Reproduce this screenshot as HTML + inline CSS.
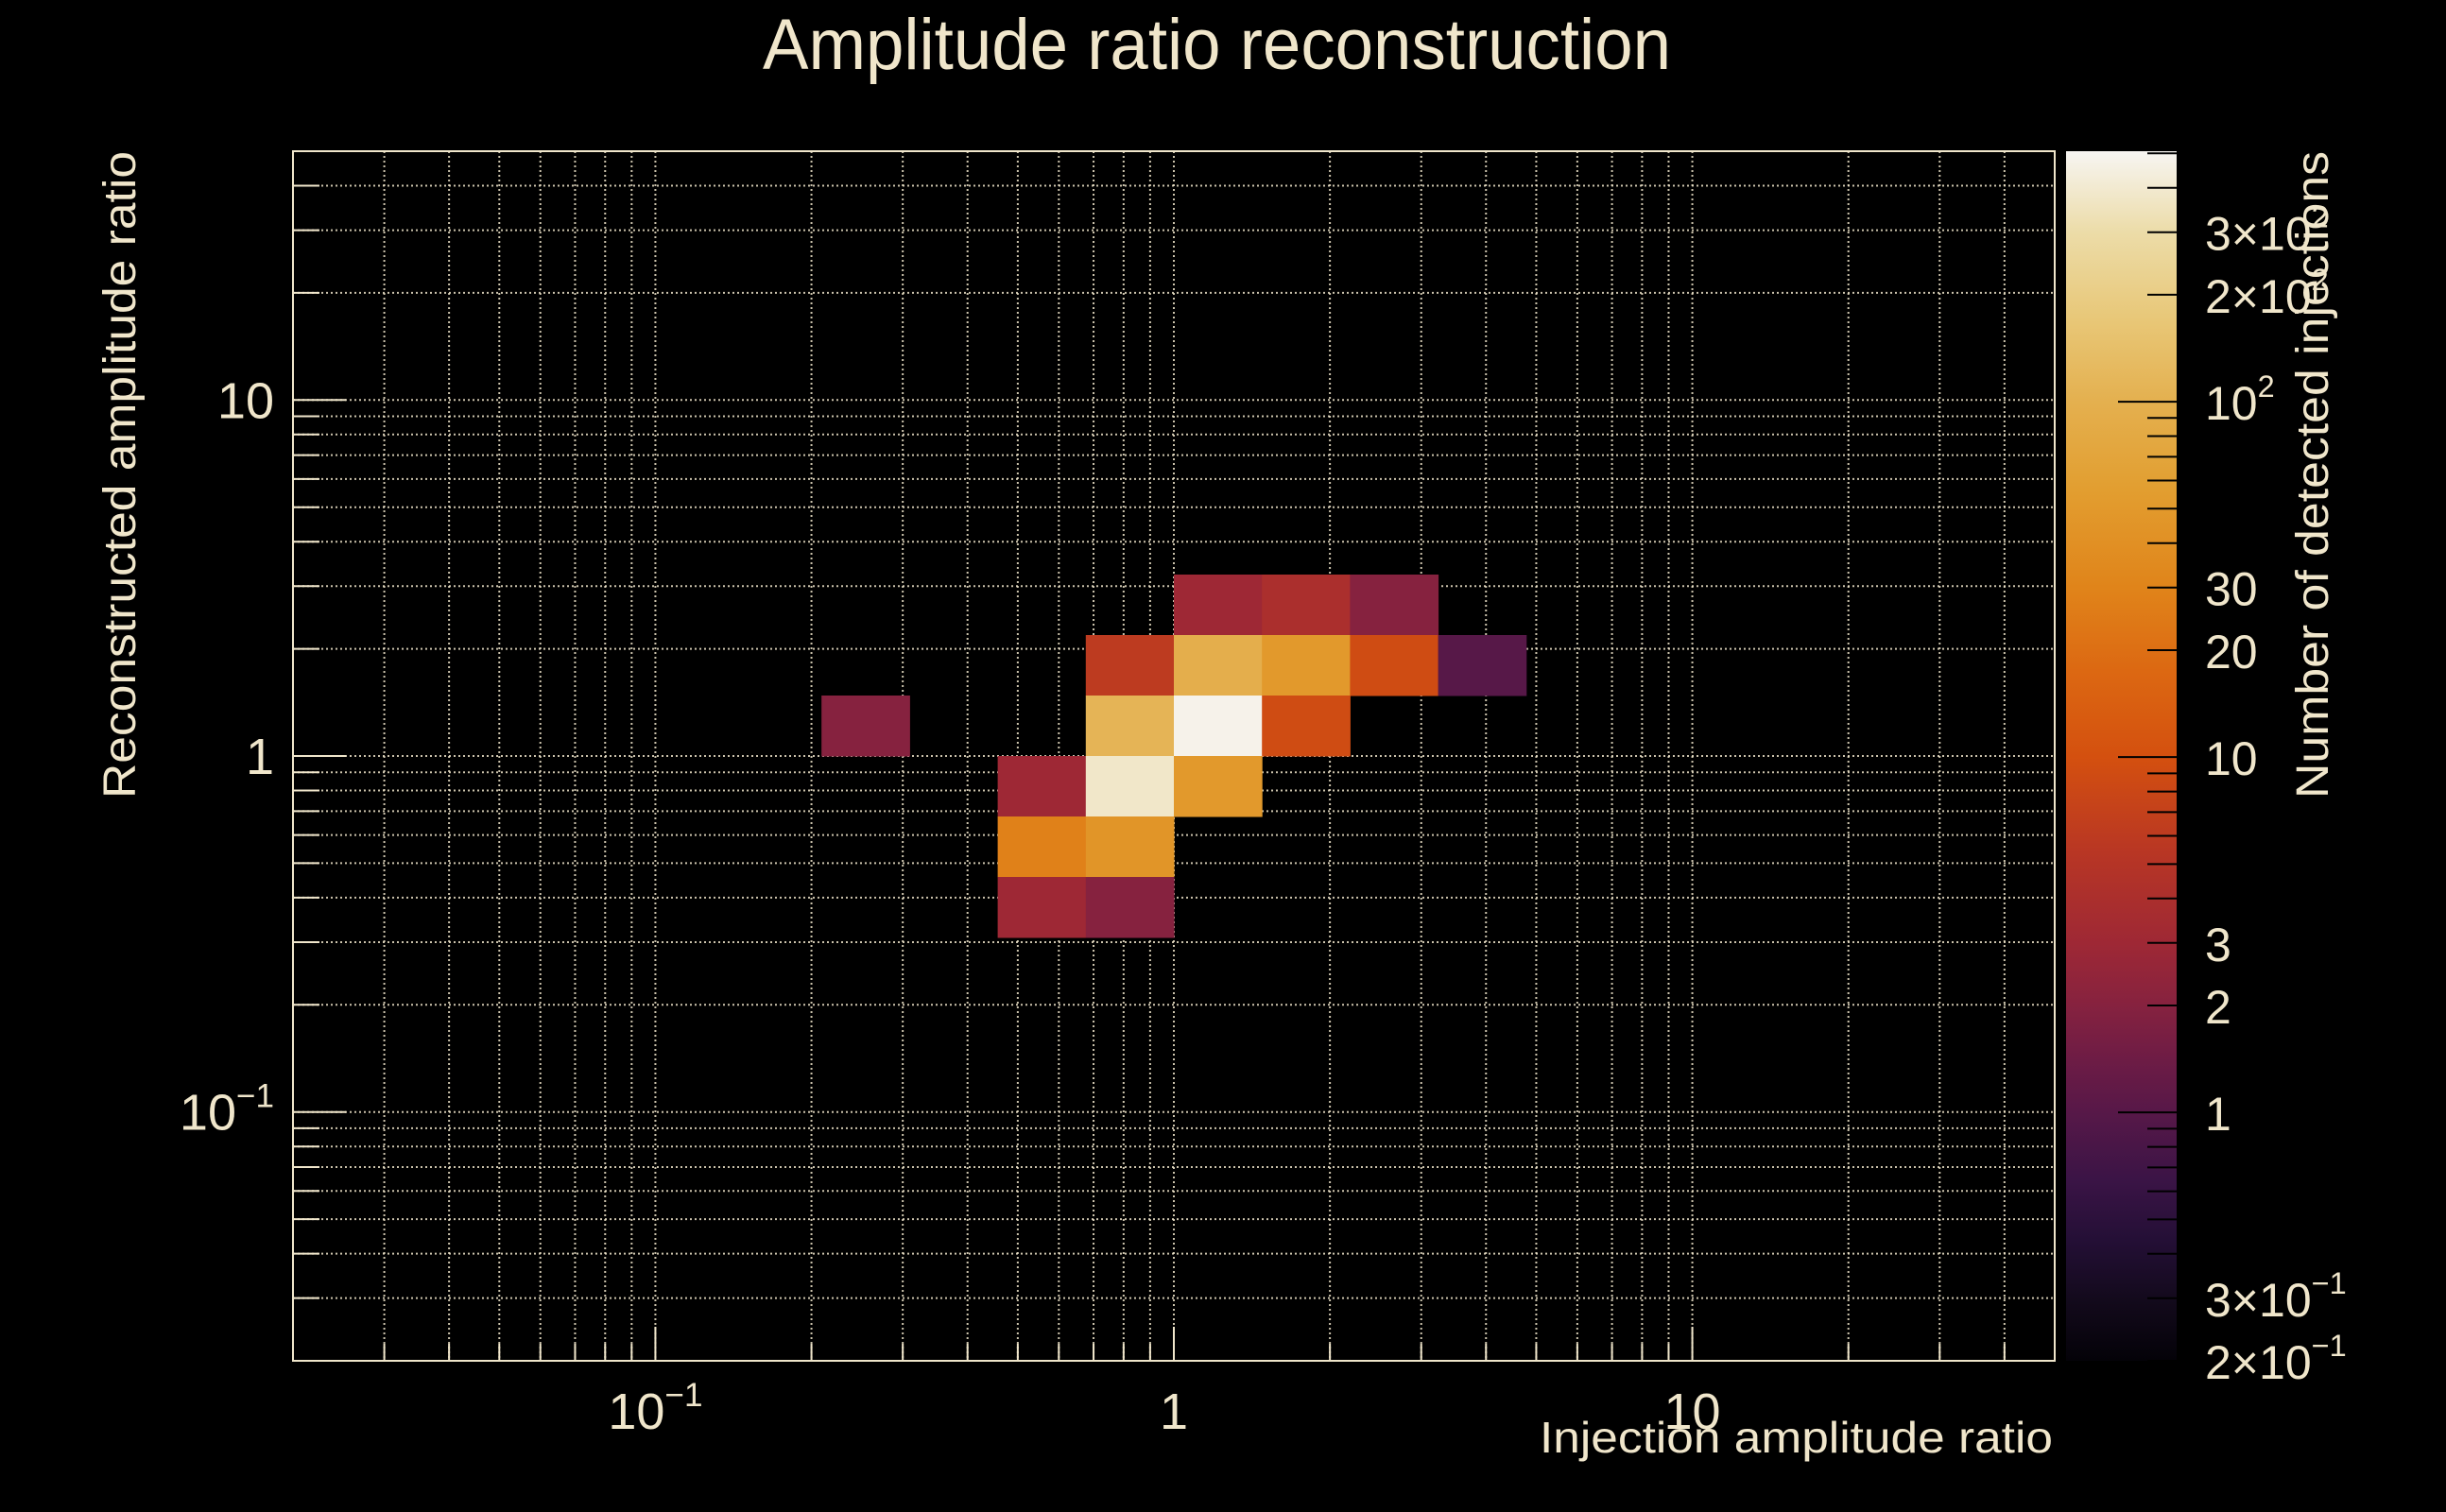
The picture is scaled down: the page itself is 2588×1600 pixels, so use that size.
<!DOCTYPE html>
<html><head><meta charset="utf-8"><style>
html,body{margin:0;padding:0;background:#000;}
svg{display:block;}
text{font-family:"Liberation Sans",sans-serif;fill:#f0e6cb;}
</style></head><body>
<svg id="chart" width="2588" height="1600" viewBox="0 0 2588 1600" xmlns="http://www.w3.org/2000/svg">
<rect x="0" y="0" width="2588" height="1600" fill="#000"/>
<defs>
<linearGradient id="cmap" x1="0" y1="1" x2="0" y2="0">
<stop offset="0" stop-color="#040208"/>
<stop offset="0.05" stop-color="#130a1c"/>
<stop offset="0.10" stop-color="#240f36"/>
<stop offset="0.15" stop-color="#3b1446"/>
<stop offset="0.205" stop-color="#571848"/>
<stop offset="0.25" stop-color="#6e1c45"/>
<stop offset="0.294" stop-color="#86223f"/>
<stop offset="0.345" stop-color="#9e2835"/>
<stop offset="0.42" stop-color="#b83624"/>
<stop offset="0.499" stop-color="#d4500f"/>
<stop offset="0.57" stop-color="#dc6812"/>
<stop offset="0.639" stop-color="#e0841a"/>
<stop offset="0.72" stop-color="#e29e30"/>
<stop offset="0.793" stop-color="#e4b04f"/>
<stop offset="0.86" stop-color="#e8c777"/>
<stop offset="0.933" stop-color="#ecdca8"/>
<stop offset="1" stop-color="#f7f5f2"/>
</linearGradient>
</defs>
<g id="grid"></g>
<g id="cells"></g>
<g id="axes"></g>
<rect x="2186" y="160" width="117" height="1280" fill="url(#cmap)"/>
<g id="cbticks"></g>
<text x="807" y="73" font-size="76" textLength="961" lengthAdjust="spacingAndGlyphs">Amplitude ratio reconstruction</text>
<text x="2172" y="1537" font-size="46" text-anchor="end" textLength="543" lengthAdjust="spacingAndGlyphs">Injection amplitude ratio</text>
<text transform="translate(143,845) rotate(-90)" x="0" y="0" font-size="48" textLength="685" lengthAdjust="spacingAndGlyphs">Reconstructed amplitude ratio</text>
<text transform="translate(2463,845) rotate(-90)" x="0" y="0" font-size="48" textLength="685" lengthAdjust="spacingAndGlyphs">Number of detected injections</text>
</svg>
<script>
// ---- data ----
const nBins = 20;
const cellXBin = [10,11,12, 9,10,11,12,13, 9,10,11, 6, 8,9,10, 8,9, 8,9];
const cellYBin = [12,12,12, 11,11,11,11,11, 10,10,10, 10, 9,9,9, 8,8, 7,7];
const cellCounts = [3,4,2, 6,95,50,9,1, 110,480,9, 2, 3,380,50, 28,45, 3,2];
const xMajorTicks = [0.1, 1, 10];
const xMajorLabels = ["10", "1", "10"];
const xMajorExps = ["\u22121", "", ""];
const yMajorTicks = [0.1, 1, 10];
const yMajorLabels = ["10", "1", "10"];
const yMajorExps = ["\u22121", "", ""];
const cbTickValues = [0.2, 0.3, 1, 2, 3, 10, 20, 30, 100, 200, 300];
const cbTickLabels = ["2\u00d710", "3\u00d710", "1", "2", "3", "10", "20", "30", "10", "2\u00d710", "3\u00d710"];
const cbTickExps = ["\u22121", "\u22121", "", "", "", "", "", "", "2", "2", "2"];

// ---- scales ----
const NS = "http://www.w3.org/2000/svg";
const X0 = 310, X1 = 2174, Y0 = 160, Y1 = 1440;
const LMIN = Math.log10(0.02), LMAX = Math.log10(50);
const xs = v => X0 + (Math.log10(v) - LMIN) / (LMAX - LMIN) * (X1 - X0);
const ys = v => Y1 - (Math.log10(v) - LMIN) / (LMAX - LMIN) * (Y1 - Y0);
const binEdge = i => Math.pow(10, LMIN + i * (LMAX - LMIN) / nBins);
const CMIN = Math.log10(0.2), CMAX = Math.log10(507);
const cs = v => Y1 - (Math.log10(v) - CMIN) / (CMAX - CMIN) * (Y1 - Y0);
const stops = [[0,"#040208"],[0.05,"#130a1c"],[0.10,"#240f36"],[0.15,"#3b1446"],[0.205,"#571848"],[0.25,"#6e1c45"],[0.294,"#86223f"],[0.345,"#9e2835"],[0.42,"#b83624"],[0.499,"#d4500f"],[0.57,"#dc6812"],[0.639,"#e0841a"],[0.72,"#e29e30"],[0.793,"#e4b04f"],[0.86,"#e8c777"],[0.933,"#ecdca8"],[1,"#f7f5f2"]];
function hex(c){return [1,3,5].map(i=>parseInt(c.substr(i,2),16));}
function colorOf(v){
  let t=(Math.log10(v)-CMIN)/(CMAX-CMIN); t=Math.max(0,Math.min(1,t));
  for(let i=1;i<stops.length;i++){ if(t<=stops[i][0]){
    const a=hex(stops[i-1][1]), b=hex(stops[i][1]); const f=(t-stops[i-1][0])/(stops[i][0]-stops[i-1][0]);
    return "rgb("+a.map((x,k)=>Math.round(x+(b[k]-x)*f)).join(",")+")"; } }
  return stops[stops.length-1][1];
}
function mk(tag, attrs, parent){ const e=document.createElementNS(NS,tag); for(const k in attrs) e.setAttribute(k,attrs[k]); parent.appendChild(e); return e; }

const grid=document.getElementById('grid'), cells=document.getElementById('cells'), axes=document.getElementById('axes'), cbt=document.getElementById('cbticks');
const CREAM="#f0e6cb";
const allTicks=[];
[0.01,0.1,1,10].forEach(d=>{for(let m=1;m<10;m++){const v=m*d; if(v>=0.0199&&v<=50.01) allTicks.push(v);}});

allTicks.forEach(v=>{
  const major=[0.1,1,10].some(m=>Math.abs(m-v)<1e-9);
  const gx=mk('line',{x1:xs(v),x2:xs(v),y1:Y0,y2:Y1,stroke:CREAM,'stroke-width':2,'stroke-dasharray':'2 3',opacity:0.85},grid);
  
  
  const gy=mk('line',{x1:X0,x2:X1,y1:ys(v),y2:ys(v),stroke:CREAM,'stroke-width':2,'stroke-dasharray':'2 3',opacity:0.85},grid);
  
  
  const tx=mk('line',{x1:xs(v),x2:xs(v),y1:Y1,y2:Y1-(major?36:18),stroke:CREAM,'stroke-width':2},axes);
  
  
  const ty=mk('line',{x1:X0,x2:X0+(major?56:28),y1:ys(v),y2:ys(v),stroke:CREAM,'stroke-width':2},axes);
  
  
});

for(let i=0;i<cellCounts.length;i++){
  const xa=xs(binEdge(cellXBin[i])), xb=xs(binEdge(cellXBin[i]+1));
  const yb=ys(binEdge(cellYBin[i])), ya=ys(binEdge(cellYBin[i]+1));
  const r=mk('rect',{x:xa,y:ya,width:xb-xa+0.5,height:yb-ya+0.5,fill:colorOf(cellCounts[i])},cells);
  
  
}

const frame=mk('rect',{x:X0,y:Y0,width:X1-X0,height:Y1-Y0,fill:'none',stroke:CREAM,'stroke-width':2},axes);



function label(parent,x,y,txt,exp,anchor,size){
  const t=mk('text',{x:x,y:y,'font-size':size,'text-anchor':anchor},parent);
  t.textContent=txt;
  if(exp){ const s=mk('tspan',{dy:-24,'font-size':size*0.65},t); s.textContent=exp; }
  return t;
}
xMajorTicks.forEach((v,i)=>{
  const t=label(axes,xs(v),1512,xMajorLabels[i],xMajorExps[i],'middle',54);
  
  
});
yMajorTicks.forEach((v,i)=>{
  const t=label(axes,290,ys(v)+19,yMajorLabels[i],yMajorExps[i],'end',54);
  
  
});
[0.2,0.3,0.4,0.5,0.6,0.7,0.8,0.9,1,2,3,4,5,6,7,8,9,10,20,30,40,50,60,70,80,90,100,200,300,400,500].forEach(v=>{
  const major=(v===1||v===10||v===100);
  const l=mk('line',{x1:2303-(major?62:31),x2:2303,y1:cs(v),y2:cs(v),stroke:'#000','stroke-width':2},cbt);
  
  
});
cbTickValues.forEach((v,i)=>{
  const t=label(cbt,2333,cs(v)+19,cbTickLabels[i],cbTickExps[i],'start',50);
  
  
});
</script>
</body></html>
